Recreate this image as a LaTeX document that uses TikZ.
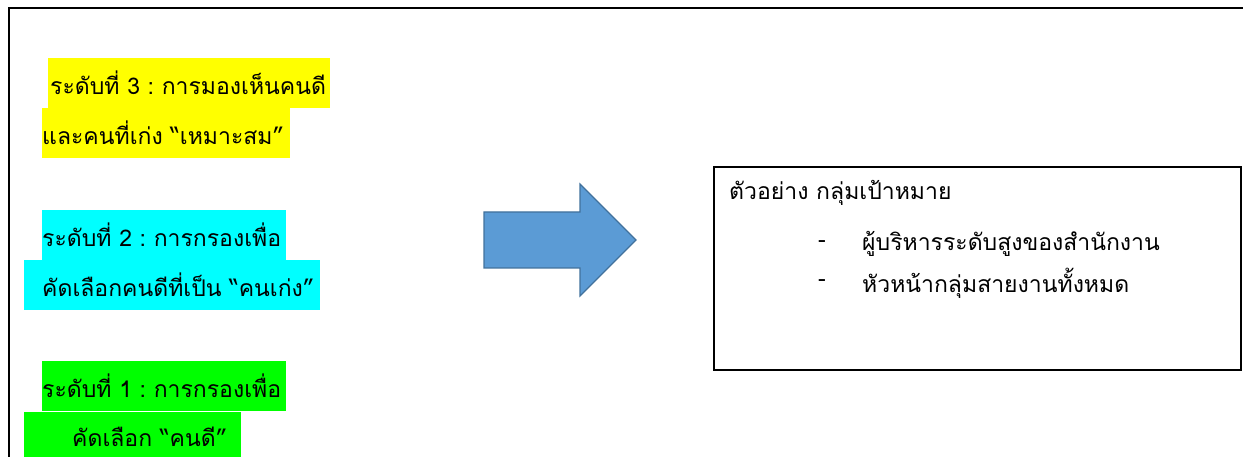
\documentclass[tikz,border=0pt]{standalone}
\usepackage{xcolor}
\usepackage{fontspec}
\newfontfamily\thaifont[Script=Thai]{Loma}
\definecolor{arrowFill}{HTML}{5B9BD5}
\definecolor{arrowLine}{HTML}{41719C}
\definecolor{levelThree}{HTML}{FFFF00}
\definecolor{levelTwo}{HTML}{00FFFF}
\definecolor{levelOne}{HTML}{00FF00}
\frenchspacing

\begin{document}
\begin{tikzpicture}
[x=1pt, y=-1pt,
 textDecorate/.style={font=\thaifont\fontsize{23}{26}\selectfont, text=black},
 lineDecorate/.style={textDecorate, anchor=north west, inner xsep=0pt, inner ysep=0pt, minimum height=50pt, align=left},
 boxDecorate/.style={draw=black, line width=1.6pt, anchor=north west, inner sep=0pt},
 arrowDecorate/.style={draw=arrowLine, fill=arrowFill, line width=1.2pt, line join=miter}]

 \useasboundingbox (0,0) rectangle (1243,457);

 % outer frame
 \draw[line width=2.5pt] (1243,8) -- (9,8) -- (9,458);

 % highlighted lines: name/x/y/width/indent/colour/text
 \foreach \linename/\x/\y/\w/\ind/\col/\txt in {
L3a/48/58/282/2/levelThree/ระดับที่ 3 : การมองเห็นคนดี,
L3b/42/108/248/0/levelThree/และคนที่เก่ง “เหมาะสม”,
L2a/42/210/244/0/levelTwo/ระดับที่ 2 : การกรองเพื่อ,
L2b/24/260/296/18/levelTwo/คัดเลือกคนดีที่เป็น “คนเก่ง”,
L1a/42/361/244/0/levelOne/ระดับที่ 1 : การกรองเพื่อ,
L1b/24/412/217/48/levelOne/คัดเลือก\hspace{8pt}“คนดี”
 }
 {
          \node (\linename) at (\x,\y) [lineDecorate, fill=\col, text width=\w pt] {\hspace*{\ind pt}\txt};
 }

 % block arrow
 \draw[arrowDecorate] (484,212) -- (580,212) -- (580,184) -- (636,240)
   -- (580,296) -- (580,268) -- (484,268) -- cycle;

 % target box
 \node (box) at (713,166) [boxDecorate, minimum width=527pt, minimum height=203pt] {};
 \node (title) at (729,193) [textDecorate, anchor=west, inner sep=0pt] {ตัวอย่าง กลุ่มเป้าหมาย};

 \foreach \itemname/\y/\txt in {
1/244/ผู้บริหารระดับสูงของสำนักงาน,
2/283/หัวหน้ากลุ่มสายงานทั้งหมด
 }
 {
          \node (D\itemname) at (822,\y) [textDecorate, inner sep=0pt] {-};
          \node (T\itemname) at (862,\y) [textDecorate, anchor=west, inner sep=0pt] {\txt};
 }

\end{tikzpicture}
\end{document}
